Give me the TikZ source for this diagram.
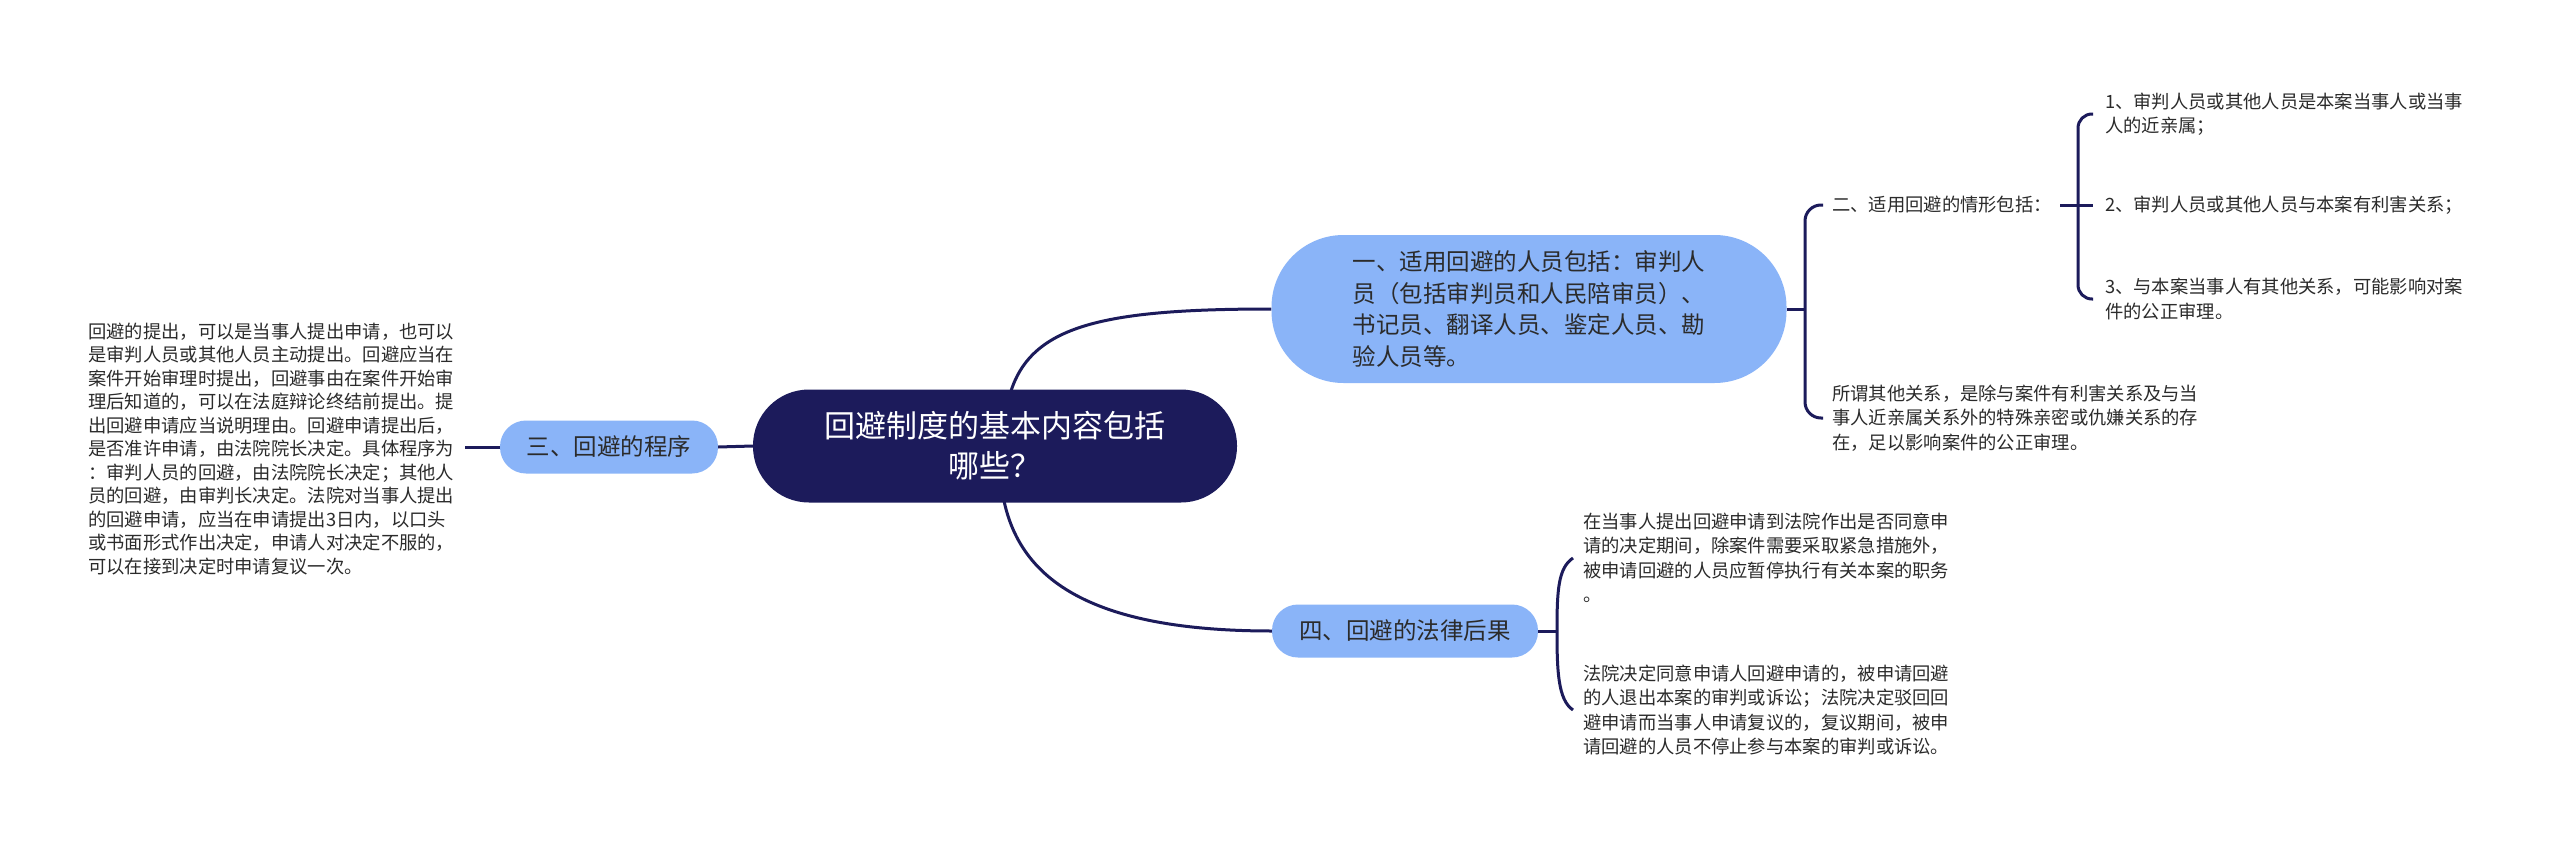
\documentclass[tikz,border=0pt]{standalone}
\usepackage{fontspec}
\setmainfont{Noto Sans CJK SC}
\usetikzlibrary{backgrounds,calc}
\definecolor{navy}{HTML}{1C1B5B}
\definecolor{lblue}{HTML}{8AB4F8}
\definecolor{txt}{HTML}{2B2B2B}
\begin{document}
\begin{tikzpicture}[x=1pt,y=-1pt,
  conn/.style={draw=navy, line width=3pt},
  rootbox/.style={fill=navy, rounded corners=56pt, minimum width=484pt, minimum height=113pt, text=white, font=\fontsize{31}{40}\selectfont, align=center, inner sep=0pt},
  branch/.style={fill=lblue, rounded corners=26pt, minimum height=53pt, text=txt, font=\fontsize{23.5}{30}\selectfont, inner sep=0pt},
  leaf/.style={text=txt, font=\fontsize{18.3}{24.5}\selectfont, align=left, inner sep=0pt, anchor=west}]
\useasboundingbox (0,0) rectangle (2560,843);

% nodes
\node[rootbox] (root) at (995,446) {回避制度的基本内容包括\\哪些？};
\node[branch, minimum width=515pt, minimum height=148pt, rounded corners=72pt, font=\fontsize{23.5}{31.5}\selectfont, align=left, text width=353pt] (n1) at (1529,309) {一、适用回避的人员包括：审判人\\员（包括审判员和人民陪审员）、\\书记员、翻译人员、鉴定人员、勘\\验人员等。};
\node[branch, minimum width=218pt] (n3) at (609,447) {三、回避的程序};
\node[branch, minimum width=266pt] (n4) at (1405,631) {四、回避的法律后果};

\node[leaf, font=\fontsize{18.3}{23.5}\selectfont] (lt) at (88,449) {回避的提出，可以是当事人提出申请，也可以\\是审判人员或其他人员主动提出。回避应当在\\案件开始审理时提出，回避事由在案件开始审\\理后知道的，可以在法庭辩论终结前提出。提\\出回避申请应当说明理由。回避申请提出后，\\是否准许申请，由法院院长决定。具体程序为\\：审判人员的回避，由法院院长决定；其他人\\员的回避，由审判长决定。法院对当事人提出\\的回避申请，应当在申请提出3日内，以口头\\或书面形式作出决定，申请人对决定不服的，\\可以在接到决定时申请复议一次。};

\node[leaf] (s2) at (1832,205) {二、适用回避的情形包括：};
\node[leaf] (s5) at (1832,418) {所谓其他关系，是除与案件有利害关系及与当\\事人近亲属关系外的特殊亲密或仇嫌关系的存\\在，足以影响案件的公正审理。};
\node[leaf] (i1) at (2105,114) {1、审判人员或其他人员是本案当事人或当事\\人的近亲属；};
\node[leaf] (i2) at (2105,205) {2、审判人员或其他人员与本案有利害关系；};
\node[leaf] (i3) at (2105,299) {3、与本案当事人有其他关系，可能影响对案\\件的公正审理。};

\node[leaf] (r1) at (1583,558) {在当事人提出回避申请到法院作出是否同意申\\请的决定期间，除案件需要采取紧急措施外，\\被申请回避的人员应暂停执行有关本案的职务\\。};
\node[leaf] (r2) at (1583,710) {法院决定同意申请人回避申请的，被申请回避\\的人退出本案的审判或诉讼；法院决定驳回回\\避申请而当事人申请复议的，复议期间，被申\\请回避的人员不停止参与本案的审判或诉讼。};

\coordinate (ltc) at (465,447);
\coordinate (b1) at (1805,309);
\coordinate (b2) at (2078,205);
\coordinate (b4) at (1557,631);

\begin{scope}[on background layer]
\fill[white] (0,0) rectangle (2560,843);
\draw[conn] ([shift={(10,-26)}]root.center) .. controls +(10,-90) and +(-190,0) .. (n1.west);
\draw[conn] ([shift={(5,24)}]root.center) .. controls +(5,90) and +(-212,0) .. (n4.west);
\end{scope}
\draw[conn] (n3.east) -- (root.west);
\draw[conn] (n3.west) -- (ltc);

\draw[conn] (n1.east) -- (b1);
\draw[conn, rounded corners=16pt] ([xshift=-9pt]s2.west) -| (b1) |- ([xshift=-9pt]s5.west);

\draw[conn] ([xshift=8pt]s2.east) -- ([xshift=-12pt]i2.west);
\draw[conn, rounded corners=14pt] ([xshift=-12pt]i1.west) -| (b2) |- ([xshift=-12pt]i3.west);

\draw[conn] (n4.east) -- (b4);
\draw[conn] ([xshift=-10pt]r1.west) .. controls +(-15,10) and +(0,-40) .. (b4) .. controls +(0,40) and +(-15,-10) .. ([xshift=-10pt]r2.west);
\end{tikzpicture}
\end{document}
